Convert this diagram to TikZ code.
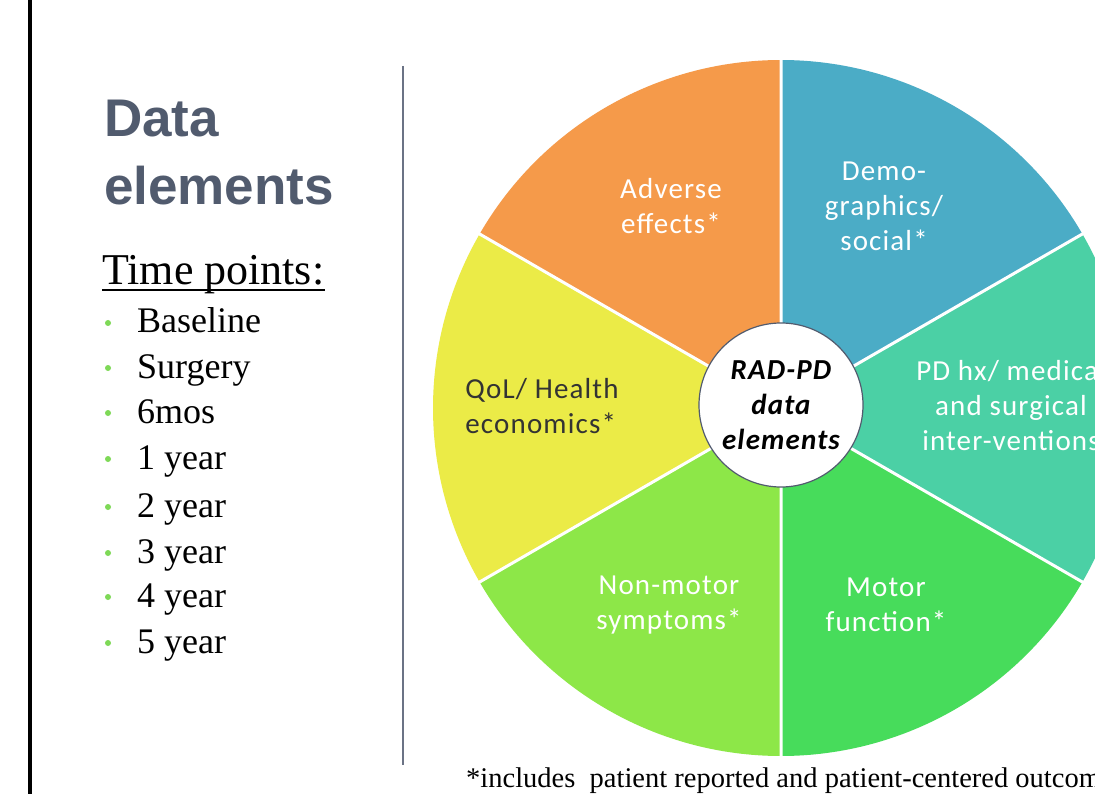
\documentclass[tikz,border=0pt]{standalone}
\usepackage{fontspec}
\setmainfont{Liberation Serif}
\newfontfamily\headfont{Liberation Sans}
\newfontfamily\piefont[LetterSpace=4]{Carlito}

\definecolor{slate}{HTML}{515B6E}
\definecolor{rulegray}{HTML}{6B7385}
\definecolor{dotgreen}{HTML}{7ED957}
\definecolor{adverse}{HTML}{F59A4A}
\definecolor{demo}{HTML}{4BACC6}
\definecolor{pdhx}{HTML}{4BD0A5}
\definecolor{motor}{HTML}{47DC5B}
\definecolor{nonmotor}{HTML}{8DE748}
\definecolor{qol}{HTML}{EBEB47}

\begin{document}
\begin{tikzpicture}[x=1pt,y=-1pt,line join=round,
    head/.style={anchor=base west,inner sep=0,text=slate,
      font=\headfont\bfseries\fontsize{53}{60}\selectfont},
    tpoint/.style={anchor=base west,inner sep=0,font=\fontsize{36}{40}\selectfont},
    bul/.style={circle,fill=dotgreen,inner sep=0,minimum size=6pt},
    slice/.style={align=center,text=white,inner sep=0,
      font=\piefont\fontsize{29}{35}\selectfont},
    sep/.style={white,line width=3pt}]
                \useasboundingbox (0,0) rectangle (1095,794);
                \clip (0,0) rectangle (1095,794);
                \fill[white] (0,0) rectangle (1095,794);
                % frame edge and column rule
                \fill[black] (28,0) rectangle (32,794);
                \draw[rulegray,line width=2pt] (403,66)--(403,765);
                % left column
                \node[head] (data)  at (104,137) {Data};
                \node[head] (elems) at (104,205) {elements};
                \node[anchor=base west,inner sep=0,font=\fontsize{44}{48}\selectfont]
                  (tp) at (102,285) {Time points:};
                \draw[line width=1.6pt] ([yshift=-5pt]tp.base west)--([yshift=-5pt]tp.base east);
                \node[bul] (b1) at (108,323) {};
                \node[bul] (b2) at (108,368) {};
                \node[bul] (b3) at (108,413) {};
                \node[bul] (b4) at (108,459) {};
                \node[bul] (b5) at (108,507) {};
                \node[bul] (b6) at (108,553) {};
                \node[bul] (b7) at (108,597) {};
                \node[bul] (b8) at (108,643) {};
                \node[tpoint] (t1) at (137,333) {Baseline};
                \node[tpoint] (t2) at (137,378) {Surgery};
                \node[tpoint] (t3) at (137,423) {6mos};
                \node[tpoint] (t4) at (137,469) {1 year};
                \node[tpoint] (t5) at (137,517) {2 year};
                \node[tpoint] (t6) at (137,563) {3 year};
                \node[tpoint] (t7) at (137,607) {4 year};
                \node[tpoint] (t8) at (137,653) {5 year};
                % wheel
                \begin{scope}[shift={(781,408)}]
                  \fill[demo]     (0,0)--(30:348pt)  arc[start angle=30, end angle=90, radius=348pt]--cycle;
                  \fill[adverse]  (0,0)--(90:348pt)  arc[start angle=90, end angle=150,radius=348pt]--cycle;
                  \fill[qol]      (0,0)--(150:348pt) arc[start angle=150,end angle=210,radius=348pt]--cycle;
                  \fill[nonmotor] (0,0)--(210:348pt) arc[start angle=210,end angle=270,radius=348pt]--cycle;
                  \fill[motor]    (0,0)--(270:348pt) arc[start angle=270,end angle=330,radius=348pt]--cycle;
                  \fill[pdhx]     (0,0)--(330:348pt) arc[start angle=330,end angle=390,radius=348pt]--cycle;
                  \draw[sep] (0,0)--(30:350pt) (0,0)--(90:350pt) (0,0)--(150:350pt)
                             (0,0)--(210:350pt) (0,0)--(270:350pt) (0,0)--(330:350pt);
                  \node[circle,draw=slate,fill=white,line width=1.2pt,minimum size=164pt,
                        inner sep=0,align=center,
                        font=\piefont\bfseries\itshape\fontsize{29}{35}\selectfont]
                    (hub) at (0,-3) {RAD-PD\\data\\elements};
                \end{scope}
                \node[slice] (adv)   at (671,206) {Adverse\\effects*};
                \node[slice] (demog) at (884,206) {Demo-\\graphics/\\social*};
                \node[slice] (hx)    at (1011,406) {PD hx/ medical\\and surgical\\inter-ventions};
                \node[slice] (mot)   at (886,605) {Motor\\function*};
                \node[slice] (nmot)  at (669,605) {Non-motor\\symptoms*};
                \node[slice,align=left,text=black!80] (qolh) at (542,406) {QoL/ Health\\economics*};
                % note under the wheel
                \node[anchor=base west,inner sep=0,font=\fontsize{28.5}{30}\selectfont]
                  (note) at (466,787) {*includes\ \ patient reported and patient-centered outcomes};
              \end{tikzpicture}
\end{document}
